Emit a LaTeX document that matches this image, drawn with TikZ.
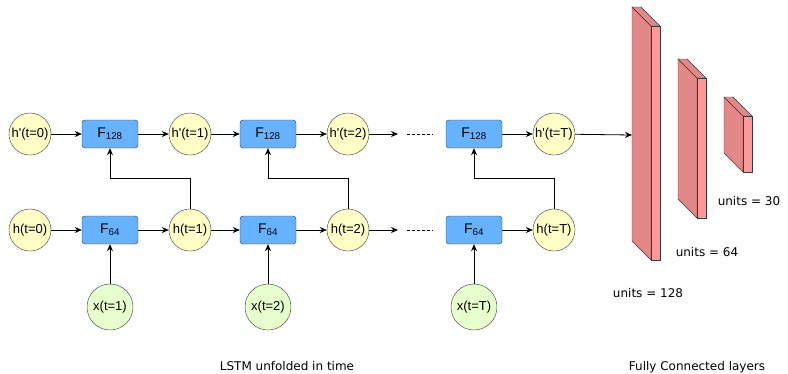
\documentclass[tikz,border=0pt]{standalone}
\usepackage{fontspec}
\setmainfont{Liberation Sans}
\newfontfamily\verd{DejaVu Sans}
\usetikzlibrary{arrows.meta}
\definecolor{hyel}{HTML}{FFFFC6}
\definecolor{fblue}{HTML}{66B2FF}
\definecolor{xgrn}{HTML}{E6FFCC}
\definecolor{lfront}{HTML}{FF9999}
\definecolor{lside}{HTML}{E38888}
\definecolor{edgegray}{HTML}{36393D}
\begin{document}
\begin{tikzpicture}[x=1pt,y=-1pt,
  hstate/.style={circle,draw=edgegray,fill=hyel,minimum size=42pt,inner sep=0pt,font=\fontsize{13}{15}\selectfont},
  xin/.style={hstate,fill=xgrn,minimum size=46pt},
  cell/.style={rectangle,rounded corners=3pt,draw=edgegray,fill=fblue,minimum width=56pt,minimum height=28pt,font=\fontsize{14}{16}\selectfont},
  flow/.style={-{Stealth[length=7pt,width=6pt]},line width=0.8pt},
  lbl/.style={font=\verd\fontsize{12}{14}\selectfont}]
  \useasboundingbox (0,0) rectangle (788,373);
  % top row
  \node[hstate] (hp0) at (30,134) {h\textquotesingle(t=0)};
  \node[cell] (f1) at (110,134) {F\textsubscript{128}};
  \node[hstate] (hp1) at (190,134) {h\textquotesingle(t=1)};
  \node[cell] (f2) at (268,134) {F\textsubscript{128}};
  \node[hstate] (hp2) at (348,134) {h\textquotesingle(t=2)};
  \node[cell] (f3) at (474,134) {F\textsubscript{128}};
  \node[hstate] (hpT) at (554,134) {h\textquotesingle(t=T)};
  % bottom row
  \node[hstate] (h0) at (30,230) {h(t=0)};
  \node[cell] (g1) at (110,230) {F\textsubscript{64}};
  \node[hstate] (h1) at (190,230) {h(t=1)};
  \node[cell] (g2) at (268,230) {F\textsubscript{64}};
  \node[hstate] (h2) at (348,230) {h(t=2)};
  \node[cell] (g3) at (474,230) {F\textsubscript{64}};
  \node[hstate] (hT) at (554,230) {h(t=T)};
  % inputs
  \node[xin] (x1) at (110,307) {x(t=1)};
  \node[xin] (x2) at (268,307) {x(t=2)};
  \node[xin] (xT) at (474,307) {x(t=T)};
  \path (398,134) coordinate (hpgap) (407,134) coordinate (hpd1) (433,134) coordinate (hpd2)
        (398,230) coordinate (hgap) (407,230) coordinate (hd1) (433,230) coordinate (hd2)
        (632,135) coordinate (fcin);
  \foreach \a/\b in {hp0/f1,f1/hp1,hp1/f2,f2/hp2,f3/hpT,h0/g1,g1/h1,h1/g2,g2/h2,g3/hT}
    \draw[flow] (\a) -- (\b);
  \draw[flow] (hp2) -- (hpgap);
  \draw[flow] (h2) -- (hgap);
  \draw[dashed,dash pattern=on 3pt off 2pt] (hpd1) -- (hpd2) (hd1) -- (hd2);
  \foreach \a/\b in {x1/g1,x2/g2,xT/g3}
    \draw[flow] (\a) -- (\b);
  \foreach \a/\b in {h1/f1,h2/f2,hT/f3}
    \draw[flow] (\a.north) -- ++(0,-30) -| (\b.south);
  \draw[flow] (hpT) -- (fcin);
  % dense layers
  \foreach \fx/\ft/\fb in {651/26/260,697/78/218,743/116/172} {
    \filldraw[draw=edgegray,fill=lside] (\fx,\ft) -- ++(-19,-19) -- ++(0,\fb-\ft) -- (\fx,\fb) -- cycle;
    \filldraw[draw=edgegray,fill=lside] (\fx,\ft) -- ++(-19,-19) -- ++(9,0) -- (\fx+9,\ft) -- cycle;
    \filldraw[draw=edgegray,fill=lfront] (\fx,\ft) rectangle (\fx+9,\fb);
  }
  \node[lbl] (u128) at (648,293) {units = 128};
  \node[lbl] (u64) at (707,252) {units = 64};
  \node[lbl] (u30) at (749,201) {units = 30};
  \node[lbl] (lstm) at (287,366) {LSTM unfolded in time};
  \node[lbl] (fcl) at (697,367) {Fully Connected layers};
\end{tikzpicture}
\end{document}
